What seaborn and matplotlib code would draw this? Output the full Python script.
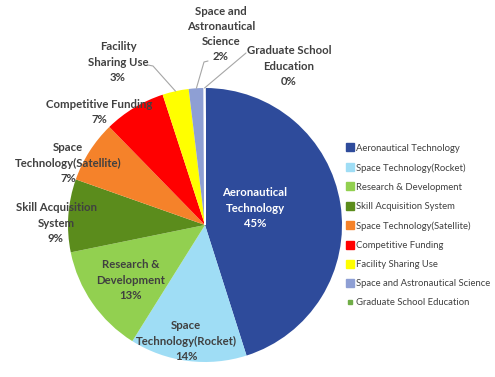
import matplotlib
matplotlib.use("Agg")
import matplotlib.pyplot as plt
import seaborn as sns
import numpy as np
from matplotlib.lines import Line2D

categories = ["Aeronautical Technology", "Space Technology(Rocket)", "Research & Development",
              "Skill Acquisition System", "Space Technology(Satellite)", "Competitive Funding",
              "Facility Sharing Use", "Space and Astronautical Science", "Graduate School Education"]
slice_labels = ["Aeronautical\nTechnology", "Space\nTechnology(Rocket)", "Research &\nDevelopment",
                "Skill Acquisition\nSystem", "Space\nTechnology(Satellite)", "Competitive Funding",
                "Facility\nSharing Use", "Space and\nAstronautical\nScience", "Graduate School\nEducation"]
values = [45.1, 13.8, 12.9, 8.6, 7.3, 7.3, 3.1, 1.8, 0.1]
colors = ["#2E4B9B", "#9FDDF5", "#92D050", "#5B8C1C", "#F5822A", "#FF0000", "#FFFF00", "#8E9FD4", "#70AD47"]

sns.set_theme(style="white")
plt.rcParams['font.family'] = ['Lato', 'DejaVu Sans']
palette = sns.color_palette(colors)

W, H = 495, 377
fig = plt.figure(figsize=(W / 100, H / 100), dpi=100)
cx, cy, R = 205, 225, 137
ax = fig.add_axes([(cx - R) / W, (H - cy - R) / H, 2 * R / W, 2 * R / H])

wedges, _ = ax.pie(values, colors=palette, startangle=90, counterclock=False,
                   wedgeprops=dict(linewidth=0))
wedges[-1].set_edgecolor("white")
wedges[-1].set_linewidth(1.2)
ax.set_xlim(-1, 1)
ax.set_ylim(-1, 1)
ax.set_aspect("equal")
ax.axis("off")

def px(x, y):
    return x / W, 1 - y / H

# label layout (pixel centres of text blocks)
label_pos = [(255, 208), (186, 341), (131, 280), (56, 223), (68, 163), (99, 112),
             (118, 62), (221, 34), (289, 66)]
pct = [f"{round(v):.0f}%" for v in values]
for i, (lab, p) in enumerate(zip(slice_labels, pct)):
    x, y = label_pos[i]
    col = "white" if i == 0 else "#404040"
    fig.text(*px(x, y), f"{lab}\n{p}", ha="center", va="center", fontsize=8.2,
             fontweight="bold", color=col, linespacing=1.45)

# leader lines for the small slices
def edge_point(w):
    ang = np.deg2rad((w.theta1 + w.theta2) / 2)
    return cx + R * np.cos(ang), cy - R * np.sin(ang)

leaders = {6: [(148, 65), (153, 66)], 7: [(208, 61), (204, 62)], 8: [(246, 53)]}
for i, pts in leaders.items():
    ex, ey = edge_point(wedges[i])
    xs = [p[0] for p in pts] + [ex]
    ys = [p[1] for p in pts] + [ey]
    fig.add_artist(Line2D([x / W for x in xs], [1 - y / H for y in ys], color="#A6A6A6", lw=0.8))

handles = [Line2D([], [], marker="s", linestyle="none", markersize=6 if i < 8 else 3.5,
                  markerfacecolor=palette[i], markeredgecolor=palette[i]) for i in range(len(categories))]
fig.legend(handles, categories, loc="upper left", bbox_to_anchor=(342 / W, 1 - 140 / H),
           frameon=False, fontsize=6.8, labelcolor="#404040", handlelength=0.8,
           handletextpad=0.3, labelspacing=1.08, borderaxespad=0)

fig.savefig("out.png", dpi=100, facecolor="white")
